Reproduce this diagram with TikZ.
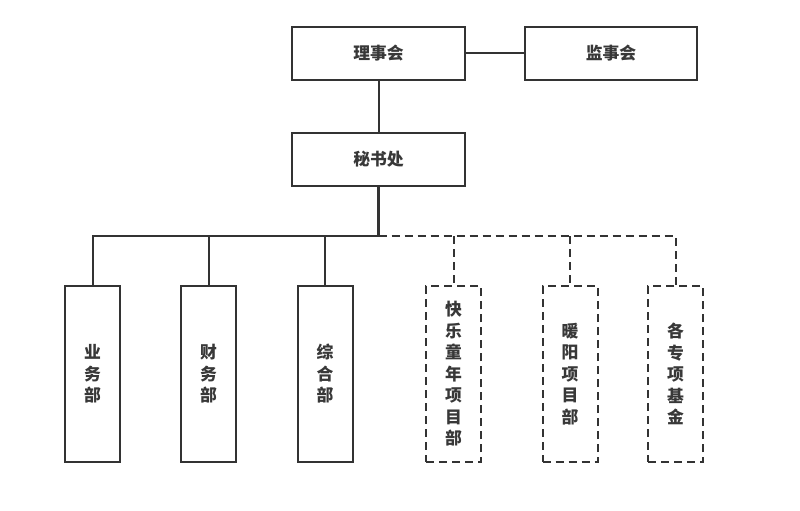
\documentclass[tikz,border=0pt]{standalone}
\usepackage{fontspec}
\newfontfamily\cjk{Noto Sans CJK SC}
\begin{document}
\begin{tikzpicture}[x=1pt,y=-1pt,
  every node/.style={font=\cjk\bfseries\fontsize{16.8}{21.5}\selectfont, text=black!78},
  box/.style={draw=black!80, line width=2pt, fill=white, inner sep=0pt, align=center},
  hbox/.style={box, minimum width=173pt, minimum height=53pt},
  vbox/.style={box, minimum width=55pt, minimum height=176pt},
  dbox/.style={vbox, dash pattern=on 8pt off 5pt},
  conn/.style={draw=black!80, line width=2pt},
  dconn/.style={conn, dash pattern=on 8pt off 5pt}]
\useasboundingbox (0,0) rectangle (800,511);
\node[hbox] (lsh) at (378.5,53.5) {理事会};
\node[hbox, minimum width=172pt] (jsh) at (611,53.5) {监事会};
\node[hbox] (msc) at (378.5,159.5) {秘书处};
\coordinate (bus) at (378.5,236);
\node[vbox] (b1) at (92.5,374) {业\\务\\部};
\node[vbox] (b2) at (208.5,374) {财\\务\\部};
\node[vbox] (b3) at (325,374) {综\\合\\部};
\node[dbox] (b4) at (453.5,374) {快\\乐\\童\\年\\项\\目\\部};
\node[dbox] (b5) at (570,374) {暖\\阳\\项\\目\\部};
\node[dbox] (b6) at (675.5,374) {各\\专\\项\\基\\金};
\draw[conn] (lsh.east) -- (jsh.west);
\draw[conn] (lsh.south) -- (msc.north);
\draw[conn, line width=3pt] (msc.south) -- (bus);
\draw[conn] (bus) -| (b1.north);
\draw[conn] (b2.north |- bus) -- (b2.north);
\draw[conn] (b3.north |- bus) -- (b3.north);
\draw[dconn] (bus) -| (b6.north);
\draw[dconn] (b4.north |- bus) -- (b4.north);
\draw[dconn] (b5.north |- bus) -- (b5.north);
\end{tikzpicture}
\end{document}
